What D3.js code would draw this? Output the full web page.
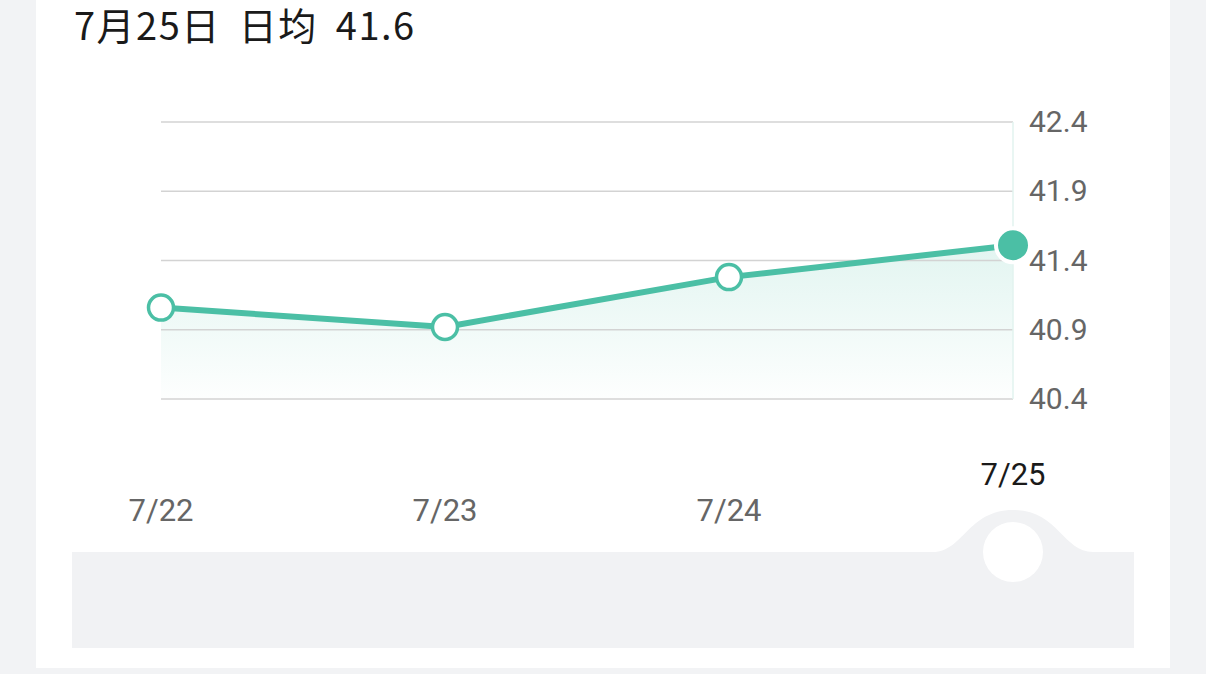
<!DOCTYPE html>
<html>
<head>
<meta charset="utf-8">
<script src="https://cdn.jsdelivr.net/npm/d3@7/dist/d3.min.js"></script>
<style>
  html, body { margin: 0; padding: 0; background: #f2f3f5; }
  svg { display: block; }
</style>
</head>
<body>
<svg id="chart" width="1206" height="674"></svg>
<script>
// data
const days = ["7/22", "7/23", "7/24", "7/25"];
const values = [41.06, 40.92, 41.28, 41.51];
const yTicks = [40.4, 40.9, 41.4, 41.9, 42.4];
const title = "7月25日 日均 41.6";
const selected = "7/25";

const teal = "#4bbfa5";
const font = "Roboto, 'Noto Sans CJK SC', sans-serif";

const svg = d3.select("#chart");

// white card
svg.append("rect")
    .attr("x", 36).attr("y", 0)
    .attr("width", 1134).attr("height", 668)
    .attr("fill", "#fff");

svg.append("text")
    .attr("x", 74).attr("y", 40)
    .attr("font-family", "'Noto Sans CJK SC', sans-serif")
    .attr("font-size", 38)
    .attr("letter-spacing", 1.5)
    .attr("word-spacing", 8)
    .attr("fill", "#1a1a1a")
    .text(title);

let x = d3.scalePoint().domain(days).range([161, 1013]);
let y = d3.scaleLinear().domain([40.4, 42.4]).range([399, 122]);

let data = days.map((d, i) => ({day: d, value: values[i]}));

// gradient under the line
let defs = svg.append("defs");
let grad = defs.append("linearGradient")
    .attr("id", "fillGrad")
    .attr("x1", 0).attr("y1", 0).attr("x2", 0).attr("y2", 1);
grad.append("stop").attr("offset", "0%").attr("stop-color", teal).attr("stop-opacity", 0.16);
grad.append("stop").attr("offset", "100%").attr("stop-color", teal).attr("stop-opacity", 0.01);

let area = d3.area()
    .x(d => x(d.day))
    .y0(y(40.4))
    .y1(d => y(d.value));

svg.append("path")
    .datum(data)
    .attr("d", area)
    .attr("fill", "url(#fillGrad)");

// grid lines
svg.append("g").selectAll("line")
    .data(yTicks)
    .enter()
    .append("line")
    .attr("x1", x(days[0])).attr("x2", x(days[days.length - 1]))
    .attr("y1", d => y(d)).attr("y2", d => y(d))
    .attr("stroke", "#d3d3d3")
    .attr("stroke-width", 1.5);

// vertical marker on the selected day
svg.append("line")
    .attr("x1", x(selected)).attr("x2", x(selected))
    .attr("y1", y(42.4)).attr("y2", y(40.4))
    .attr("stroke", "#e2f3ef")
    .attr("stroke-width", 1.5);

// y axis labels on the right
let yAxis = d3.axisRight(y).tickValues(yTicks).tickFormat(d3.format(".1f")).tickSize(0).tickPadding(0);
let gy = svg.append("g")
    .attr("transform", "translate(1029,0)")
    .call(yAxis);
gy.select(".domain").remove();
gy.selectAll("text")
    .attr("font-family", font)
    .attr("font-size", 30)
    .attr("fill", "#666")
    .attr("dy", "0.32em");

// line
let line = d3.line()
    .x(d => x(d.day))
    .y(d => y(d.value));

svg.append("path")
    .datum(data)
    .attr("d", line)
    .attr("fill", "none")
    .attr("stroke", teal)
    .attr("stroke-width", 6)
    .attr("stroke-linejoin", "round");

// points
svg.append("g").selectAll("circle")
    .data(data.filter(d => d.day !== selected))
    .enter()
    .append("circle")
    .attr("cx", d => x(d.day))
    .attr("cy", d => y(d.value))
    .attr("r", 12.5)
    .attr("fill", "#fff")
    .attr("stroke", teal)
    .attr("stroke-width", 3.5);

let sel = data.find(d => d.day === selected);
svg.append("circle")
    .attr("cx", x(sel.day)).attr("cy", y(sel.value))
    .attr("r", 17)
    .attr("fill", teal)
    .attr("stroke", "#fff")
    .attr("stroke-width", 4);

// x labels
svg.append("g").selectAll("text")
    .data(days)
    .enter()
    .append("text")
    .attr("x", d => x(d))
    .attr("y", d => d === selected ? 485 : 521)
    .attr("text-anchor", "middle")
    .attr("font-family", font)
    .attr("font-size", 31)
    .attr("fill", d => d === selected ? "#1a1a1a" : "#666")
    .text(d => d);

// slider bar with a bump under the selected day
let cx = x(selected);
let bar = d3.path();
bar.moveTo(72, 552);
bar.lineTo(cx - 80, 552);
bar.bezierCurveTo(cx - 50, 552, cx - 45, 510, cx, 510);
bar.bezierCurveTo(cx + 45, 510, cx + 50, 552, cx + 80, 552);
bar.lineTo(1134, 552);
bar.lineTo(1134, 648);
bar.lineTo(72, 648);
bar.closePath();
svg.append("path")
    .attr("d", bar.toString())
    .attr("fill", "#f1f2f4");

svg.append("circle")
    .attr("cx", cx).attr("cy", 552)
    .attr("r", 30)
    .attr("fill", "#fff");
</script>
</body>
</html>
